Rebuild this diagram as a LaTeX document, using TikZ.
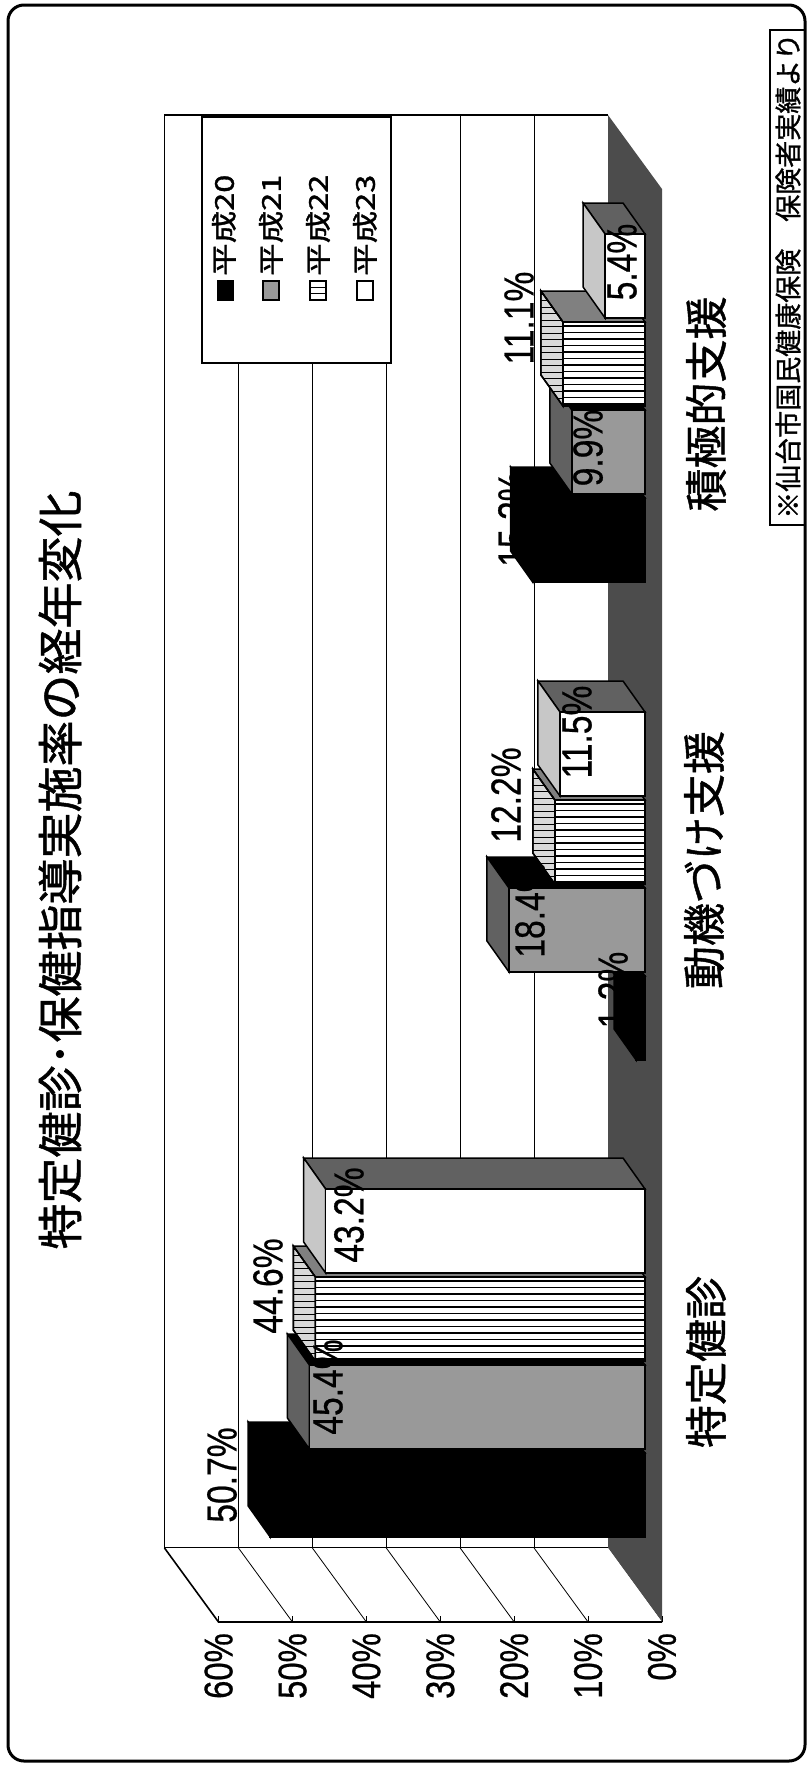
\documentclass[tikz,border=0pt]{standalone}
\usepackage{fontspec}
\setmainfont[FakeBold=0.7]{Liberation Sans}
\newfontfamily\jp[FakeBold=1.1]{Noto Sans CJK JP}
\usepackage{graphicx}
\tikzset{
  bsideA/.style={fill=black,draw=black,line width=1.5pt},
  btopA/.style={fill=black,draw=black,line width=1.5pt},
  bfrontA/.style={fill=black,draw=black,line width=1.5pt},
  bsideB/.style={fill=black,draw=black,line width=1.5pt},
  btopB/.style={fill=black!62,draw=black,line width=1.5pt},
  bfrontB/.style={fill=black!40,draw=black,line width=1.5pt},
  bsideC/.style={fill=black!50,draw=black,line width=1.5pt},
  btopC/.style={fill=black!15,draw=black,line width=1.5pt},
  bfrontC/.style={fill=white,draw=black,line width=1.5pt},
  bsideD/.style={fill=black!62,draw=black,line width=1.5pt},
  btopD/.style={fill=black!22,draw=black,line width=1.5pt},
  bfrontD/.style={fill=white,draw=black,line width=1.5pt},
  datalab/.style={rotate=90,inner sep=0pt,font=\fontsize{42}{46}\selectfont},
  axislab/.style={rotate=90,inner sep=0pt,anchor=east,font=\fontsize{40}{44}\selectfont},
  catlab/.style={rotate=90,inner sep=0pt,font=\jp\fontsize{43}{48}\selectfont},
  leglab/.style={rotate=90,inner sep=0pt,anchor=west,font=\jp\fontsize{26}{29}\selectfont},
  grid/.style={line width=0.8pt},
}
% value, bottom y of front face, series letter
\newcommand\dobar[3]{%
  \pgfmathsetmacro\bXt{645-7.392*#1}%
  \pgfmathsetmacro\bYb{#2}%
  \pgfmathsetmacro\bYa{#2-84}%
  \filldraw[bside#3] (\bXt,\bYa) -- (645,\bYa) -- (623,\bYa-31) -- (\bXt-22,\bYa-31) -- cycle;
  \filldraw[btop#3] (\bXt,\bYa) -- (\bXt,\bYb) -- (\bXt-22,\bYb-31) -- (\bXt-22,\bYa-31) -- cycle;
  \filldraw[bfront#3] (\bXt,\bYa) rectangle (645,\bYb);
}
\newcommand\dohatch[2]{%
  \pgfmathsetmacro\bXt{645-7.392*#1}%
  \pgfmathsetmacro\bYb{#2}%
  \pgfmathsetmacro\bYa{#2-84}%
  \begin{scope}
    \clip (\bXt,\bYa) -- (\bXt,\bYb) -- (\bXt-22,\bYb-31) -- (\bXt-22,\bYa-31) -- cycle;
    \foreach \k in {0,...,17} {\draw[line width=0.9pt] (\bXt-24,\bYa-31+3+6.5*\k) -- (\bXt+1,\bYa-31+3+6.5*\k);}
  \end{scope}
  \foreach \k in {0,...,12} {\draw[line width=1.2pt] (\bXt,\bYa+4+6.5*\k) -- (645,\bYa+4+6.5*\k);}
  \draw[line width=1.5pt] (\bXt,\bYa) -- (\bXt,\bYb) -- (\bXt-22,\bYb-31) -- (\bXt-22,\bYa-31) -- cycle;
  \draw[line width=1.5pt] (\bXt,\bYa) rectangle (645,\bYb);
}
\begin{document}
\begin{tikzpicture}[x=1pt,y=-1pt]
\useasboundingbox (0,0) rectangle (811,1765);
\fill[white] (0,0) rectangle (811,1765);
% outer frame
\draw[line width=3pt, rounded corners=16pt] (8,5) rectangle (805,1761);
% title
\node[rotate=90,inner sep=0pt,font=\jp\fontsize{46}{50}\selectfont] (title) at (60,870) {特定健診･保健指導実施率の経年変化};
% back wall
\fill[white] (164.5,115) rectangle (608,1548);
\foreach \j in {1,...,5} {\draw[grid] ({608-73.9*\j},115) -- ({608-73.9*\j},1548);}
\draw[line width=1.3pt] (608,115) -- (164.5,115) -- (164.5,1548) -- (608,1548);
% floor
\fill[black!70] (608,115) -- (662,189) -- (662,1622) -- (608,1548) -- cycle;
% side wall
\fill[white] (164.5,1548) -- (608,1548) -- (662,1622) -- (218.5,1622) -- cycle;
\foreach \j in {1,...,5} {\draw[grid] ({608-73.9*\j},1548) -- ({662-73.9*\j},1622);}
\draw[line width=1.6pt] (164.5,1548) -- (218.5,1622) -- (662,1622);
\foreach \j in {0,...,6} {\draw[grid] ({218.5+73.9*\j},1622) -- ++(0,-6);}
% axis labels
\foreach \v in {60,50,40,30,20,10,0} {
  \node[axislab] (ax\v) at ({662-7.39*\v},1633) {\scalebox{0.82}[1]{\v\%}};
}
% legend
\draw[line width=1.1pt, fill=white] (202,117) rectangle (391,363);
\fill[black] (216.5,280) rectangle (233.5,301);
\draw[line width=1.3pt, fill=black!40] (263,281) rectangle (279,300);
\draw[line width=1.3pt, fill=white] (310,281) rectangle (326,300);
\draw[line width=1pt] (310,287) -- (326,287) (310,293.5) -- (326,293.5);
\draw[line width=1.3pt, fill=white] (357,281) rectangle (373,300);
\node[leglab] (lg20) at (224,276) {\scalebox{1.25}[1]{平成20}};
\node[leglab] (lg21) at (271,276) {\scalebox{1.25}[1]{平成21}};
\node[leglab] (lg22) at (318,276) {\scalebox{1.25}[1]{平成22}};
\node[leglab] (lg23) at (365,276) {\scalebox{1.25}[1]{平成23}};
% bars group 1
\dobar{50.7}{1537}{A}
\dobar{45.4}{1449}{B}
\dobar{44.6}{1361}{C}\dohatch{44.6}{1361}
\dobar{43.2}{1273}{D}
% group 2
\dobar{1.2}{1060}{A}
\dobar{18.4}{972}{B}
\dobar{12.2}{884}{C}\dohatch{12.2}{884}
\dobar{11.5}{796}{D}
% group 3
\dobar{15.2}{582}{A}
\dobar{9.9}{494}{B}
\dobar{11.1}{406}{C}\dohatch{11.1}{406}
\dobar{5.4}{318}{D}
% data labels
\node[datalab] (d1a) at (222,1475) {\scalebox{0.8}[1]{50.7\%}};
\node[datalab] (d1b) at (328,1387) {\scalebox{0.8}[1]{45.4\%}};
\node[datalab] (d1c) at (268,1286) {\scalebox{0.8}[1]{44.6\%}};
\node[datalab] (d1d) at (349,1215) {\scalebox{0.8}[1]{43.2\%}};
\node[datalab] (d2a) at (613,990) {\scalebox{0.8}[1]{1.2\%}};
\node[datalab] (d2b) at (530,910) {\scalebox{0.8}[1]{18.4\%}};
\node[datalab] (d2c) at (506,795) {\scalebox{0.8}[1]{12.2\%}};
\node[datalab] (d2d) at (577,732) {\scalebox{0.8}[1]{11.5\%}};
\node[datalab] (d3a) at (513,519) {\scalebox{0.8}[1]{15.2\%}};
\node[datalab] (d3b) at (588,448) {\scalebox{0.8}[1]{9.9\%}};
\node[datalab] (d3c) at (519,318) {\scalebox{0.8}[1]{11.1\%}};
\node[datalab] (d3d) at (622,262) {\scalebox{0.8}[1]{5.4\%}};
% category labels
\node[catlab] (c1) at (706,1362) {特定健診};
\node[catlab] (c2) at (704,860) {動機づけ支援};
\node[catlab] (c3) at (706,404) {積極的支援};
% source note
\draw[line width=1.2pt] (770,30) rectangle (805,525);
\node[rotate=90,inner sep=0pt,font=\jp\fontsize{27}{30}\selectfont] (note) at (788,276) {※仙台市国民健康保険　保険者実績より};
\end{tikzpicture}
\end{document}
